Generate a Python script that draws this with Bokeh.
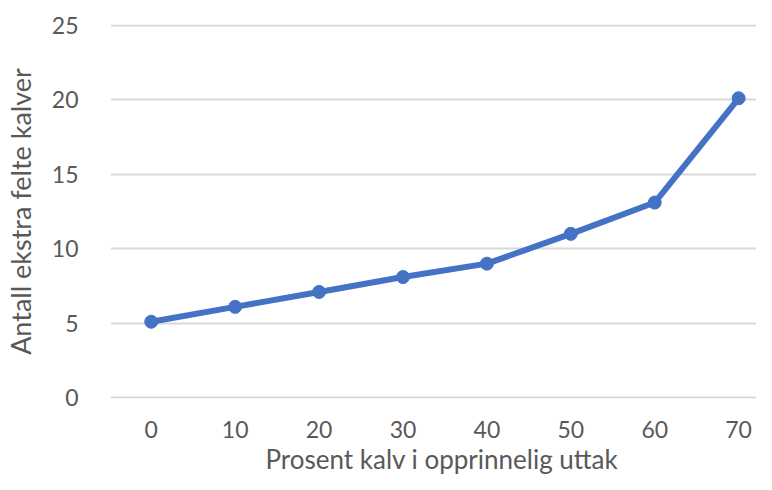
from bokeh.plotting import figure
from bokeh.models import FixedTicker, Range1d, Title
from bokeh.embed import file_html
from bokeh.resources import INLINE

# Data
x_values = [0, 10, 20, 30, 40, 50, 60, 70]
y_values = [5.1, 6.1, 7.1, 8.1, 9.0, 11.0, 13.1, 20.1]
y_ticks = [0, 5, 10, 15, 20, 25]
x_title = "Prosent kalv i opprinnelig uttak"
y_title = "Antall ekstra felte kalver"

FONT = "Lato"
TXT = "#595959"
LINE = "#4472C4"

p = figure(width=756, height=474, output_backend="svg", toolbar_location=None,
           x_range=Range1d(-4.856, 72.13), y_range=Range1d(-0.05, 25.05),
           min_border_left=106, min_border_right=0, min_border_top=24, min_border_bottom=76)
p.outline_line_color = None
p.background_fill_color = "white"
p.border_fill_color = "white"

p.line(x_values, y_values, line_color=LINE, line_width=6)
p.scatter(x_values, y_values, size=13, fill_color=LINE, line_color=LINE)

p.xaxis.ticker = FixedTicker(ticks=x_values)
p.yaxis.ticker = FixedTicker(ticks=y_ticks)
p.xgrid.grid_line_color = None
p.ygrid.grid_line_color = "#D9D9D9"
p.ygrid.grid_line_width = 2

for ax in (p.xaxis[0], p.yaxis[0]):
    ax.axis_line_color = None
    ax.major_tick_line_color = None
    ax.minor_tick_line_color = None
    ax.major_label_text_font = FONT
    ax.major_label_text_font_size = "23px"
    ax.major_label_text_color = TXT
    ax.axis_label_text_font = FONT
    ax.axis_label_text_font_size = "27px"
    ax.axis_label_text_font_style = "normal"
    ax.axis_label_text_color = TXT

p.yaxis.axis_label = y_title
p.xaxis.major_label_standoff = 16
p.yaxis.major_label_standoff = 26
p.yaxis.axis_label_standoff = 12

xt = Title(text=x_title, align="left", offset=155, standoff=0,
           text_font=FONT, text_font_size="26px", text_font_style="normal",
           text_color=TXT)
p.add_layout(xt, "below")

open("out.html", "w").write(file_html(p, INLINE))
